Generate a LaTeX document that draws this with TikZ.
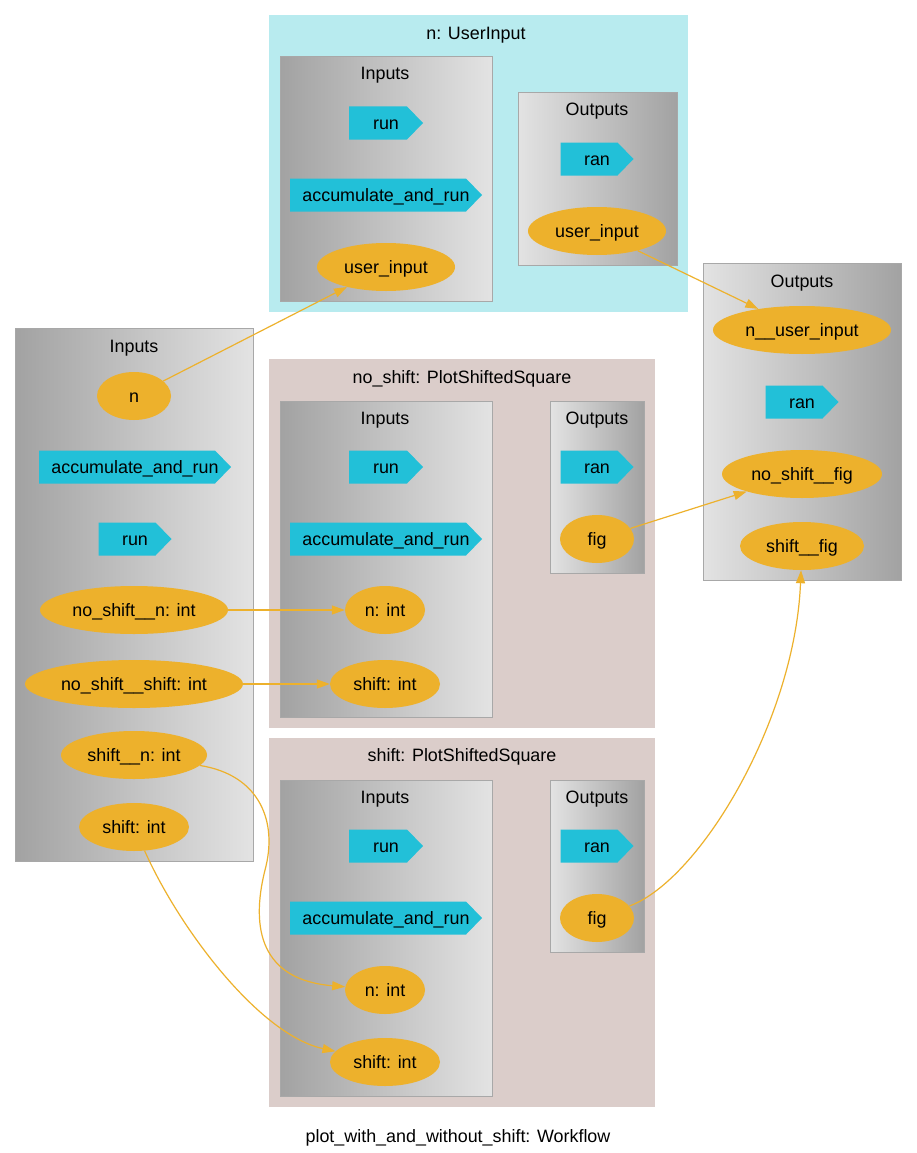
\documentclass[tikz,border=0pt]{standalone}
\usepackage{fontspec}
\setmainfont{Liberation Sans}
\usetikzlibrary{shapes.geometric,arrows.meta}
\definecolor{clcyan}{HTML}{B8EBEF}
\definecolor{clpink}{HTML}{DBCDCA}
\definecolor{portcyan}{HTML}{22C0D8}
\definecolor{paramorange}{HTML}{EDB12C}
\definecolor{gdark}{HTML}{A2A2A2}
\definecolor{glight}{HTML}{E3E3E3}
\definecolor{boxline}{HTML}{A8A8A8}
\tikzset{
  every node/.style={text height=13pt, text depth=1pt},
  param/.style={ellipse, fill=paramorange, inner sep=0pt, minimum height=48pt},
  port/.style={rectangle, inner sep=0pt, minimum height=33pt,
    path picture={\fill[portcyan]
      (path picture bounding box.south west)
      -- ([xshift=-16pt]path picture bounding box.south east)
      -- (path picture bounding box.east)
      -- ([xshift=-16pt]path picture bounding box.north east)
      -- (path picture bounding box.north west) -- cycle;}},
  title/.style={inner sep=0pt},
  inbox/.style={draw=boxline, line width=1pt, left color=gdark, right color=glight},
  outbox/.style={draw=boxline, line width=1pt, left color=glight, right color=gdark},
  wire/.style={draw=paramorange, line width=1.2pt, -{Triangle[length=13pt,width=9pt]}}
}
\begin{document}
\begin{tikzpicture}[x=1pt,y=-1pt,font=\fontsize{17.9}{21}\selectfont]
\useasboundingbox (0,0) rectangle (917,1153);
\fill[white] (0,0) rectangle (917,1153);

% ---- n: UserInput ----
\fill[clcyan] (269,15) rectangle (688,312);
\node[title] (ntitle) at (476,34) {n: UserInput};
\shade[inbox] (280,57) rectangle (492,301);
\node[title] (ninlbl) at (385,74) {Inputs};
\node[port, minimum width=74pt] (nrun) at (386,123) {run};
\node[port, minimum width=192pt] (nacc) at (386,195) {accumulate\_and\_run};
\node[param, minimum width=138pt] (nuiin) at (386,267) {user\_input};
\shade[outbox] (518,93) rectangle (677,265);
\node[title] (noutlbl) at (597,110) {Outputs};
\node[port, minimum width=73pt] (nran) at (597,159) {ran};
\node[param, minimum width=138pt] (nuiout) at (597,231) {user\_input};

% ---- workflow inputs ----
\shade[inbox] (15,328) rectangle (253,861);
\node[title] (winlbl) at (134,346) {Inputs};
\node[param, minimum width=74pt] (wn) at (134,396) {n};
\node[port, minimum width=192pt] (wacc) at (135,467) {accumulate\_and\_run};
\node[port, minimum width=73pt] (wrun) at (135,539) {run};
\node[param, minimum width=188pt] (wnsn) at (134,610) {no\_shift\_\_n: int};
\node[param, minimum width=218pt] (wnss) at (134,684) {no\_shift\_\_shift: int};
\node[param, minimum width=146pt] (wsn) at (134,755) {shift\_\_n: int};
\node[param, minimum width=110pt] (wss) at (134,827) {shift: int};

% ---- no_shift: PlotShiftedSquare ----
\fill[clpink] (269,359) rectangle (655,728);
\node[title] (nstitle) at (462,377) {no\_shift: PlotShiftedSquare};
\shade[inbox] (280,401) rectangle (492,717);
\node[title] (nsinlbl) at (385,418) {Inputs};
\node[port, minimum width=74pt] (nsrun) at (386,467) {run};
\node[port, minimum width=192pt] (nsacc) at (386,539) {accumulate\_and\_run};
\node[param, minimum width=80pt] (nsn) at (385,610) {n: int};
\node[param, minimum width=110pt] (nss) at (385,684) {shift: int};
\shade[outbox] (550,401) rectangle (644,573);
\node[title] (nsoutlbl) at (597,418) {Outputs};
\node[port, minimum width=73pt] (nsran) at (597,467) {ran};
\node[param, minimum width=74pt] (nsfig) at (597,539) {fig};

% ---- shift: PlotShiftedSquare ----
\fill[clpink] (269,738) rectangle (655,1107);
\node[title] (stitle) at (462,755) {shift: PlotShiftedSquare};
\shade[inbox] (280,780) rectangle (492,1096);
\node[title] (sinlbl) at (385,797) {Inputs};
\node[port, minimum width=74pt] (srun) at (386,846) {run};
\node[port, minimum width=192pt] (sacc) at (386,918) {accumulate\_and\_run};
\node[param, minimum width=80pt] (sn) at (385,990) {n: int};
\node[param, minimum width=110pt] (ss) at (385,1062) {shift: int};
\shade[outbox] (550,780) rectangle (644,952);
\node[title] (soutlbl) at (597,797) {Outputs};
\node[port, minimum width=73pt] (sran) at (597,846) {ran};
\node[param, minimum width=74pt] (sfig) at (597,918) {fig};

% ---- workflow outputs ----
\shade[outbox] (703,263) rectangle (901,580);
\node[title] (woutlbl) at (802,281) {Outputs};
\node[param, minimum width=178pt] (wnui) at (802,330) {n\_\_user\_input};
\node[port, minimum width=73pt] (wran) at (802,402) {ran};
\node[param, minimum width=160pt] (wnsfig) at (802,474) {no\_shift\_\_fig};
\node[param, minimum width=124pt] (wsfig) at (802,546) {shift\_\_fig};

% ---- data connections ----
\draw[wire] (wn) -- (nuiin);
\draw[wire] (nuiout) -- (wnui);
\draw[wire] (nsfig) -- (wnsfig);
\draw[wire] (wnsn) -- (nsn);
\draw[wire] (wnss) -- (nss);
\draw[wire] (sfig) .. controls (700,880) and (795,720) .. (wsfig);
\draw[wire] (wsn) .. controls (260,775) and (278,822) .. (265,870)
  .. controls (250,930) and (262,980) .. (sn);
\draw[wire] (wss) .. controls (180,930) and (260,1035) .. (ss);

\node[title] (caption) at (458,1136) {plot\_with\_and\_without\_shift: Workflow};
\end{tikzpicture}
\end{document}
